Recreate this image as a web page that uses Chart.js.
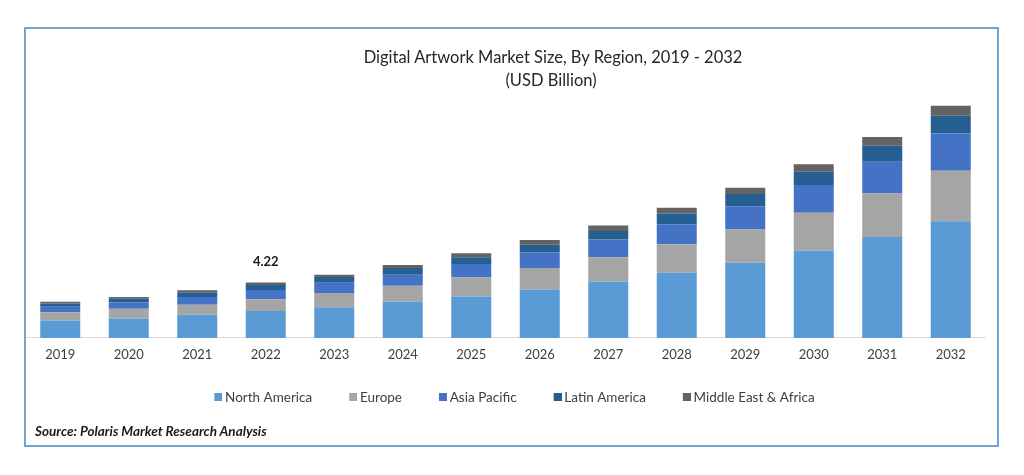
<!DOCTYPE html>
<html>
<head>
<meta charset="utf-8">
<script src="https://cdn.jsdelivr.net/npm/chart.js@4"></script>
<style>
  body { margin: 0; background: #fff; }
  #wrap { position: relative; width: 1024px; height: 475px; }
  #frame {
    position: absolute; left: 24px; top: 27px; width: 971px; height: 416px;
    border: 2px solid #74a4d2; pointer-events: none;
  }
  .txt { position: absolute; font-family: Lato, "Open Sans", sans-serif; color: #262626; white-space: nowrap; }
  #title { left: 0; width: 1106px; text-align: center; top: 47px; font-size: 16.5px; }
  #subtitle { left: 0; width: 1102px; text-align: center; top: 70px; font-size: 16.5px; }
  #source { left: 35px; top: 423px; font-size: 13.5px; font-weight: bold; font-style: italic; color: #1a1a1a; }
  canvas { position: absolute; left: 0; top: 0; }
</style>
</head>
<body>
<div id="wrap">
  <canvas id="chart" width="1024" height="475"></canvas>
  <div id="frame"></div>
  <div class="txt" id="title">Digital Artwork Market Size, By Region, 2019 - 2032</div>
  <div class="txt" id="subtitle">(USD Billion)</div>
  <div class="txt" id="source">Source: Polaris Market Research Analysis</div>
</div>
<script>
  // Categories and series (USD Billion)
  const years = ['2019', '2020', '2021', '2022', '2023', '2024', '2025', '2026', '2027', '2028', '2029', '2030', '2031', '2032'];
  const northAmerica = [1.32, 1.47, 1.76, 2.05, 2.34, 2.75, 3.15, 3.69, 4.27, 4.96, 5.72, 6.64, 7.68, 8.87];
  const europe = [0.64, 0.74, 0.76, 0.90, 1.07, 1.22, 1.45, 1.63, 1.86, 2.16, 2.52, 2.88, 3.30, 3.84];
  const asiaPacific = [0.41, 0.51, 0.59, 0.69, 0.79, 0.84, 1.02, 1.17, 1.35, 1.53, 1.78, 2.11, 2.42, 2.85];
  const latinAmerica = [0.25, 0.25, 0.33, 0.38, 0.43, 0.51, 0.51, 0.59, 0.66, 0.82, 0.92, 1.02, 1.22, 1.35];
  const middleEastAfrica = [0.13, 0.15, 0.18, 0.20, 0.18, 0.23, 0.31, 0.36, 0.41, 0.43, 0.48, 0.56, 0.66, 0.76];
  const labelledYear = '2022';

  const colors = ['#5b9bd5', '#a5a5a5', '#4472c4', '#255e91', '#636363'];

  // legend swatch: 8px square at the right end of a wider transparent strip.
  // the strip is wider than pointStyleWidth so the square sits close to its text
  const swatchGap = 14;
  const swatchWidth = 8 + swatchGap;
  function swatch(color) {
    const c = document.createElement('canvas');
    c.width = swatchWidth + 8;
    c.height = 8;
    const g = c.getContext('2d');
    g.fillStyle = color;
    g.fillRect(swatchWidth, 0, 8, 8);
    return c;
  }
  const swatches = colors.map(swatch);

  // Writes the total above the labelled bar
  const totalLabel = {
    id: 'totalLabel',
    afterDatasetsDraw(chart) {
      const i = years.indexOf(labelledYear);
      let total = 0;
      chart.data.datasets.forEach(ds => { total += ds.data[i]; });
      const x = chart.scales.x.getPixelForValue(i);
      const y = chart.scales.y.getPixelForValue(total);
      const ctx = chart.ctx;
      ctx.save();
      ctx.font = 'bold 13px Lato, sans-serif';
      ctx.fillStyle = '#1a1a1a';
      ctx.textAlign = 'center';
      ctx.textBaseline = 'bottom';
      ctx.fillText(total.toFixed(2), x, y - 14);
      ctx.restore();
    }
  };

  const ctx = document.getElementById('chart').getContext('2d');
  new Chart(ctx, {
    type: 'bar',
    data: {
      labels: years,
      datasets: [
        { label: 'North America', data: northAmerica, backgroundColor: colors[0] },
        { label: 'Europe', data: europe, backgroundColor: colors[1] },
        { label: 'Asia Pacific', data: asiaPacific, backgroundColor: colors[2] },
        { label: 'Latin America', data: latinAmerica, backgroundColor: colors[3] },
        { label: 'Middle East & Africa', data: middleEastAfrica, backgroundColor: colors[4] }
      ]
    },
    options: {
      responsive: false,
      animation: false,
      layout: { padding: { left: 26, right: 39, top: 100, bottom: 61 } },
      datasets: { bar: { categoryPercentage: 0.8, barPercentage: 0.73 } },
      scales: {
        x: {
          stacked: true,
          grid: { display: true, drawOnChartArea: false, drawTicks: false },
          border: { color: '#d9d9d9', width: 1 },
          ticks: { color: '#404040', padding: 9, font: { family: 'Lato, sans-serif', size: 13 } }
        },
        y: { stacked: true, display: false, min: 0, max: 18.1 }
      },
      plugins: {
        legend: {
          position: 'bottom',
          labels: {
            usePointStyle: true,
            pointStyleWidth: swatchWidth,
            boxHeight: 8,
            padding: 19,
            color: '#404040',
            font: { family: 'Lato, sans-serif', size: 13.5 },
            generateLabels(chart) {
              const items = Chart.defaults.plugins.legend.labels.generateLabels(chart);
              items.forEach((it, i) => { it.pointStyle = swatches[i]; });
              return items;
            }
          }
        },
        tooltip: { enabled: false }
      }
    },
    plugins: [totalLabel]
  });
</script>
</body>
</html>
